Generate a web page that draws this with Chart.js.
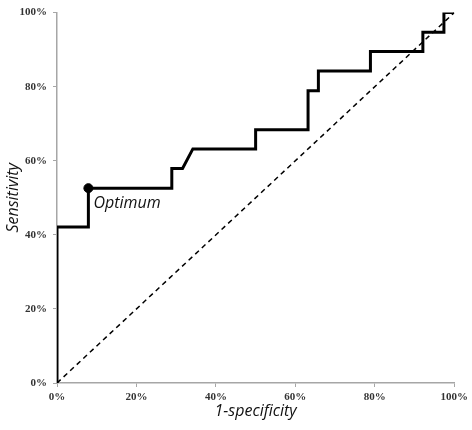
<!DOCTYPE html>
<html>
<head>
<meta charset="utf-8">
<script src="https://cdn.jsdelivr.net/npm/chart.js@4"></script>
<style>
  html, body { margin: 0; padding: 0; background: #fff; }
  #wrap { width: 472px; height: 430px; }
</style>
</head>
<body>
<div id="wrap"><canvas id="roc"></canvas></div>
<script>
// ROC curve corners (1-specificity %, sensitivity %)
const fpr = [0, 0, 7.9, 7.9, 28.9, 28.9, 31.6, 34.2, 50, 50, 63.2, 63.2, 65.8, 65.8, 78.9, 78.9, 92.1, 92.1, 97.4, 97.4, 100];
const tpr = [0, 42.1, 42.1, 52.6, 52.6, 57.9, 57.9, 63.2, 63.2, 68.4, 68.4, 78.9, 78.9, 84.2, 84.2, 89.5, 89.5, 94.7, 94.7, 100, 100];
const refX = [0, 100];
const refY = [0, 100];
const optX = [7.9];
const optY = [52.6];
const optLabel = 'Optimum';

const rocCanva = document.getElementById('roc');

const tickFont = { family: 'Liberation Serif', size: 11, weight: 'bold' };
const titleFont = { family: 'Open Sans', size: 16, style: 'italic' };

const toPts = (xs, ys) => xs.map((x, i) => ({ x: x, y: ys[i] }));

// draws the "Optimum" text next to the marked point
const optimumLabel = {
  id: 'optimumLabel',
  afterDatasetsDraw(chart) {
    const ctx = chart.ctx;
    const xs = chart.scales.x, ys = chart.scales.y;
    const px = xs.getPixelForValue(optX[0]);
    const py = ys.getPixelForValue(optY[0]);
    ctx.save();
    ctx.font = 'italic 16px "Open Sans"';
    ctx.fillStyle = '#111';
    ctx.textBaseline = 'middle';
    ctx.fillText(optLabel, px + 5, py + 15);
    ctx.restore();
  }
};

var rocChart = new Chart(rocCanva, {
  type: 'scatter',
  data: {
    datasets: [
      {
        label: 'reference',
        data: toPts(refX, refY),
        showLine: true,
        borderColor: '#000',
        borderWidth: 1.5,
        borderDash: [5, 4],
        pointRadius: 0,
        tension: 0
      },
      {
        label: 'ROC',
        data: toPts(fpr, tpr),
        showLine: true,
        borderColor: '#000',
        borderWidth: 3,
        pointRadius: 0,
        tension: 0,
        borderJoinStyle: 'miter'
      },
      {
        label: 'optimum',
        data: toPts(optX, optY),
        pointRadius: 4.5,
        pointBackgroundColor: '#000',
        pointBorderColor: '#000'
      }
    ]
  },
  options: {
    responsive: true,
    maintainAspectRatio: false,
    animation: false,
    layout: { padding: { top: 6, right: 15, bottom: 0, left: 0 } },
    plugins: { legend: { display: false }, tooltip: { enabled: false } },
    scales: {
      x: {
        type: 'linear',
        min: 0, max: 100,
        afterFit: (s) => { s.height = 47; },
        grid: { drawOnChartArea: false, drawTicks: true, tickLength: 4, color: '#a6a6a6' },
        border: { display: true, color: '#a6a6a6', width: 1.5 },
        ticks: { stepSize: 20, font: tickFont, color: '#333', padding: 4, maxRotation: 0,
                 callback: (v) => v + '%' },
        title: { display: true, text: '1-specificity', font: titleFont, color: '#111',
                 padding: { top: 0, bottom: 9 } }
      },
      y: {
        type: 'linear',
        min: 0, max: 100,
        afterFit: (s) => { s.width = 57; },
        grid: { drawOnChartArea: false, drawTicks: true, tickLength: 4, color: '#a6a6a6' },
        border: { display: true, color: '#a6a6a6', width: 1.5 },
        ticks: { stepSize: 20, font: tickFont, color: '#333', padding: 6,
                 callback: (v) => v + '%' },
        title: { display: true, text: 'Sensitivity', font: titleFont, color: '#111',
                 padding: { top: 4, bottom: 0 } }
      }
    }
  },
  plugins: [optimumLabel]
});
</script>
</body>
</html>
